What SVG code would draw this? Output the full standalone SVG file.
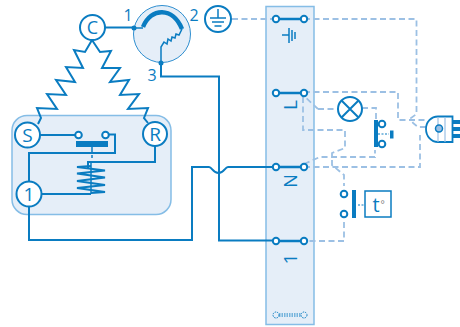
<svg xmlns="http://www.w3.org/2000/svg" width="460" height="327" viewBox="0 0 460 327">
<style>
.w{fill:none;stroke:#0a7cc1;stroke-width:2;stroke-linejoin:miter}
.t{fill:none;stroke:#0a7cc1;stroke-width:1.500}
.d{fill:none;stroke:#9cc0e4;stroke-width:1.800;stroke-dasharray:6 3.500}
.c{fill:#fff;stroke:#0a7cc1;stroke-width:2}
.o{fill:#fff;stroke:#0a7cc1;stroke-width:2}
.f{fill:#0a7cc1}
.p{fill:#e5eef8;stroke:#85bde6;stroke-width:1.500}
text{font-family:"Open Sans","Liberation Sans",sans-serif;fill:#0a7cc1;text-anchor:middle}
</style>
<g id="compressor-box"><rect class="p" x="12" y="115.500" width="159" height="99" rx="15"/></g>
<g id="overload"><circle class="p" cx="162" cy="34" r="28.500" style="stroke:#2f8fd0;stroke-width:1"/>
<path d="M143,27C151,7 173,7 182,29" fill="none" stroke="#0a7cc1" stroke-width="4.500"/>
<path class="t" d="M134,28H143M161,63V47L164,42L167,44L168,39L171,41L172,37L175,38L176,34L179,35L182,29"/>
<circle class="f" cx="134" cy="28" r="2.500"/><circle class="f" cx="161" cy="63" r="2.500"/>
<text x="128" y="21" font-size="16">1</text><text x="194" y="21" font-size="16">2</text><text x="152" y="81" font-size="16">3</text></g>
<g id="panel"><rect class="p" x="266" y="6.500" width="48" height="318"/>
<path class="t" d="M282,35H289M289,28V43M292,30V41M295,32V39"/>
<text transform="translate(297,105) rotate(-90)" font-size="19">L</text>
<text transform="translate(297,181) rotate(-90)" font-size="18">N</text>
<text transform="translate(297,259) rotate(-90)" font-size="19">1</text>
<path d="M279,314H301M279,316H301" fill="none" stroke="#0a7cc1" stroke-width="1" stroke-dasharray="1.500 1"/>
<circle cx="276" cy="315" r="3" fill="none" stroke="#0a7cc1" stroke-width="1" stroke-dasharray="1.500 1"/>
<circle cx="304" cy="315" r="3" fill="none" stroke="#0a7cc1" stroke-width="1" stroke-dasharray="1.500 1"/></g>
<g id="connectors">
<path class="w" d="M105,27.500H134M161,63V76.500H219V240.500H276"/>
<path class="w" d="M29,206V240H192V167H209C212,167 213,173 218.500,173C224,173 225,167 228,167H276"/>
<path class="w" d="M92,40L85,52L74,50L83,68L66,67L75,82L56,80L66,95L47,94L57,109L37,108L41,118L38,124"/>
<path class="w" d="M92,40L100,52L111,51L102,68L120,68L110,82L129,80L120,95L139,94L128,109L148,108L144,118L148,123"/>
<path class="w" d="M40,135H75M108,134.500H115V153H29V182M155,146V162H88V168M41,194H91"/>
<path class="w" d="M92,147V152M92,155V158M91,162V194" style="stroke-width:1.500"/>
<path class="d" d="M232,19H276M304,19H416.500V114L411,118L413,123L418,127H428M304,92H398V120H427M303,97V130H345V148L332,153V165L344,175V186M344,222V241H304M318,109L304,96M318,109H338M362,108H376V120M304,164L320,157H375V150M304,167H420V135"/>
</g>
<g id="terminals">
<path d="M276,19H304M276,93H304M276,167H304M276,241H304" fill="none" stroke="#0a7cc1" stroke-width="2.500"/>
<circle class="o" cx="276" cy="19" r="3.200"/><circle class="o" cx="304" cy="19" r="3.200"/>
<circle class="o" cx="276" cy="93" r="3.200"/><circle class="o" cx="304" cy="93" r="3.200"/>
<circle class="o" cx="276" cy="167" r="3.200"/><circle class="o" cx="304" cy="167" r="3.200"/>
<circle class="o" cx="276" cy="241" r="3.200"/><circle class="o" cx="304" cy="241" r="3.200"/>
</g>
<g id="C"><circle class="c" cx="92.500" cy="27.500" r="12.500"/><text x="92.500" y="34" font-size="18">C</text></g>
<g id="S"><circle class="c" cx="27.500" cy="135" r="12.500"/><text x="27.500" y="142" font-size="19">S</text></g>
<g id="R"><circle class="c" cx="155" cy="134" r="12"/><text x="155" y="141" font-size="19">R</text></g>
<g id="one"><circle class="c" cx="29" cy="194" r="12.500"/><text x="29" y="201" font-size="19">1</text></g>
<g id="ground"><circle class="c" cx="218" cy="19" r="13"/><path class="t" d="M218,9V18M210,18H226M212,22H224M214.500,26H221.500"/></g>
<g id="relay"><rect class="f" x="76" y="141" width="32" height="6"/><circle class="o" cx="78.500" cy="135" r="3.300"/><circle class="o" cx="105.500" cy="135" r="3.300"/>
<path class="w" d="M91,166L77,167L105,170.500L77,173.500L105,177.500L77,181L105,185L77,188L105,192L91,193" style="stroke-width:2.200"/></g>
<g id="lamp"><circle class="o" cx="350" cy="109" r="12"/><path class="w" d="M341.500,100.500L358.500,117.500M358.500,100.500L341.500,117.500"/></g>
<g id="switch"><rect class="f" x="374" y="120" width="4" height="27"/><circle class="o" cx="382" cy="124" r="3.300"/><circle class="o" cx="382" cy="144" r="3.300"/>
<path d="M378,134H389" stroke="#0a7cc1" stroke-width="1.200" stroke-dasharray="2 1.500"/><rect class="f" x="390" y="130.500" width="3.500" height="8"/></g>
<g id="thermostat"><circle class="o" cx="344" cy="194" r="3.300"/><circle class="o" cx="344" cy="214" r="3.300"/><rect class="f" x="352" y="190" width="4" height="28"/>
<path d="M358,205H365" stroke="#0a7cc1" stroke-width="1.200" stroke-dasharray="2 1.500"/><rect x="365" y="191" width="26" height="26" fill="#fff" stroke="#0a7cc1" stroke-width="1.500"/>
<text x="376" y="212" font-size="20">t</text><text x="380.500" y="208" font-size="10" style="fill:#808080;text-anchor:start">°</text></g>
<g id="plug"><path d="M426,129C426,122 431,116.500 438,116.500H452.500V142H438C431,142 426,136 426,129Z" fill="#fff" stroke="#0a7cc1" stroke-width="1.800"/>
<path d="M438,117V142M445,117V142" stroke="#9cc0e4" stroke-width="1.200"/><circle cx="439" cy="128.500" r="3.500" fill="#9cc0e4" stroke="#0a7cc1" stroke-width="1.500"/>
<path d="M453,122H460M453,129H460M453,136H460" stroke="#0a7cc1" stroke-width="4"/></g>
</svg>
